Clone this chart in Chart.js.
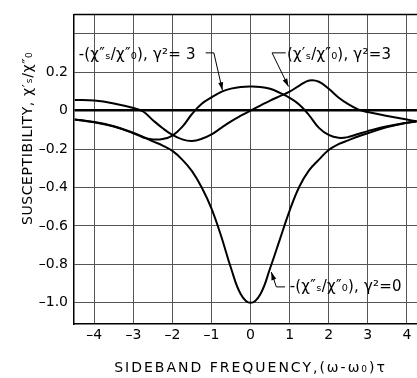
<!DOCTYPE html>
<html>
<head>
<meta charset="utf-8">
<script src="https://cdn.jsdelivr.net/npm/chart.js@4"></script>
<style>
  html, body { margin: 0; padding: 0; background: #fff; }
  canvas { display: block; }
</style>
</head>
<body>
<canvas id="susceptChart" width="417" height="378"></canvas>
<script>
// sideband frequency (w-w0)tau
var freq = [-4.5, -4, -3.5, -3, -2.75, -2.5, -2.25, -2, -1.75, -1.5, -1.25, -1, -0.75, -0.5, -0.25, 0,
            0.25, 0.5, 0.75, 1, 1.25, 1.5, 1.75, 2, 2.25, 2.5, 2.75, 3, 3.5, 4, 4.25];
// -(x''s/x''0), gamma^2 = 0
var absorbG0 = [-0.046, -0.06, -0.082, -0.116, -0.137, -0.16, -0.182, -0.21, -0.255, -0.315, -0.4, -0.51, -0.655, -0.82, -0.955, -1.0,
                -0.955, -0.82, -0.67, -0.52, -0.395, -0.31, -0.255, -0.205, -0.175, -0.155, -0.135, -0.118, -0.086, -0.064, -0.057];
// -(x''s/x''0), gamma^2 = 3
var absorbG3 = [-0.047, -0.061, -0.083, -0.118, -0.14, -0.15, -0.148, -0.13, -0.085, -0.018, 0.035, 0.068, 0.097, 0.114, 0.123, 0.125,
                0.123, 0.113, 0.092, 0.066, 0.03, -0.025, -0.09, -0.127, -0.142, -0.138, -0.122, -0.107, -0.082, -0.063, -0.056];
// (x's/x''0), gamma^2 = 3
var dispG3 = [0.055, 0.052, 0.037, 0.013, -0.005, -0.05, -0.092, -0.127, -0.15, -0.158, -0.147, -0.124, -0.09, -0.056, -0.027, 0,
              0.026, 0.052, 0.075, 0.098, 0.13, 0.156, 0.15, 0.113, 0.068, 0.033, 0.006, -0.008, -0.028, -0.047, -0.056];

var xTicks = [-4, -3, -2, -1, 0, 1, 2, 3, 4];
var xTickLabels = ['–4', '–3', '–2', '–1', '0', '1', '2', '3', '4'];
var yTicks = [0.4, 0.2, 0, -0.2, -0.4, -0.6, -0.8, -1.0];
var yTickLabels = ['', '0.2', '0', '–0.2', '–0.4', '–0.6', '–0.8', '–1.0'];

var curveLabels = ['-(χ″ₛ/χ″₀), γ²= 3', '(χ′ₛ/χ″₀), γ²=3', '-(χ″ₛ/χ″₀), γ²=0'];

// where the curve labels sit and where their leaders point (data units)
var notes = [
  { at: [-4.4, 0.29], path: [[-1.15, 0.30], [-0.94, 0.30], [-0.72, 0.105]] },
  { at: [0.93, 0.29], path: [[0.9, 0.30], [0.55, 0.30], [0.97, 0.125]] },
  { at: [1.0, -0.92], path: [[0.88, -0.917], [0.66, -0.917], [0.53, -0.84]] }
];

function toPoints(values) {
  return freq.map(function(f, i) { return { x: f, y: values[i] }; });
}

function curve(values) {
  return {
    data: toPoints(values),
    borderColor: '#000',
    borderWidth: 2,
    pointRadius: 0,
    fill: false,
    tension: 0.4
  };
}

var notePlugin = {
  id: 'notes',
  afterDraw: function(chart) {
    var ctx = chart.ctx;
    var area = chart.chartArea;
    var xs = chart.scales.x;
    var ys = chart.scales.y;
    ctx.save();
    ctx.fillStyle = '#000';
    ctx.strokeStyle = '#000';

    // top frame line
    ctx.lineWidth = 1.5;
    ctx.beginPath();
    ctx.moveTo(area.left, area.top);
    ctx.lineTo(area.right, area.top);
    ctx.stroke();

    // curve labels with leaders
    ctx.font = '15px "DejaVu Sans"';
    ctx.letterSpacing = '0.2px';
    ctx.textAlign = 'left';
    ctx.textBaseline = 'middle';
    notes.forEach(function(n, i) {
      ctx.fillText(curveLabels[i], xs.getPixelForValue(n.at[0]), ys.getPixelForValue(n.at[1]));
      var pts = n.path.map(function(p) { return [xs.getPixelForValue(p[0]), ys.getPixelForValue(p[1])]; });
      ctx.lineWidth = 1;
      ctx.beginPath();
      ctx.moveTo(pts[0][0], pts[0][1]);
      for (var k = 1; k < pts.length; k++) ctx.lineTo(pts[k][0], pts[k][1]);
      ctx.stroke();
      var a = pts[pts.length - 2], b = pts[pts.length - 1];
      var ang = Math.atan2(b[1] - a[1], b[0] - a[0]);
      ctx.beginPath();
      ctx.moveTo(b[0], b[1]);
      ctx.lineTo(b[0] - 8 * Math.cos(ang) + 2.5 * Math.sin(ang), b[1] - 8 * Math.sin(ang) - 2.5 * Math.cos(ang));
      ctx.lineTo(b[0] - 8 * Math.cos(ang) - 2.5 * Math.sin(ang), b[1] - 8 * Math.sin(ang) + 2.5 * Math.cos(ang));
      ctx.closePath();
      ctx.fill();
    });

    // axis titles
    ctx.font = '14px "DejaVu Sans"';
    ctx.textAlign = 'center';
    ctx.letterSpacing = '2px';
    ctx.fillText('SIDEBAND FREQUENCY,(ω-ω₀)τ', (area.left + area.right) / 2 + 5, chart.height - 10);
    ctx.letterSpacing = '0.6px';
    ctx.translate(28, area.top + 124);
    ctx.rotate(-Math.PI / 2);
    ctx.fillText('SUSCEPTIBILITY, χ′ₛ/χ″₀', 0, 0);
    ctx.restore();
  }
};

Chart.defaults.font.family = '"DejaVu Sans"';
Chart.defaults.font.size = 14;
Chart.defaults.color = '#000';

var ctx = document.getElementById('susceptChart').getContext('2d');
window.susceptChart = new Chart(ctx, {
  type: 'line',
  data: {
    datasets: [curve(absorbG0), curve(absorbG3), curve(dispG3)]
  },
  options: {
    responsive: false,
    animation: false,
    layout: { padding: { top: 11, right: 0, left: 0, bottom: 0 } },
    plugins: {
      legend: { display: false },
      tooltip: { enabled: false }
    },
    scales: {
      x: {
        type: 'linear',
        min: -4.52,
        max: 4.26,
        afterBuildTicks: function(scale) {
          scale.ticks = xTicks.map(function(v) { return { value: v }; });
        },
        afterFit: function(scale) { scale.height = 54; },
        ticks: {
          padding: 3,
          maxRotation: 0,
          callback: function(value) { return xTickLabels[xTicks.indexOf(value)]; }
        },
        grid: { color: '#555', lineWidth: 1, drawTicks: false },
        border: { color: '#000', width: 1.5 }
      },
      y: {
        type: 'linear',
        min: -1.11,
        max: 0.5,
        afterBuildTicks: function(scale) {
          scale.ticks = yTicks.map(function(v) { return { value: v }; });
        },
        afterFit: function(scale) { scale.width = 74; },
        ticks: {
          padding: 6,
          callback: function(value) { return yTickLabels[yTicks.indexOf(value)]; }
        },
        grid: {
          drawTicks: false,
          color: function(c) { return c.tick && c.tick.value === 0 ? '#000' : '#555'; },
          lineWidth: function(c) { return c.tick && c.tick.value === 0 ? 2.5 : 1; }
        },
        border: { color: '#000', width: 1.5 }
      }
    }
  },
  plugins: [notePlugin]
});
</script>
</body>
</html>
